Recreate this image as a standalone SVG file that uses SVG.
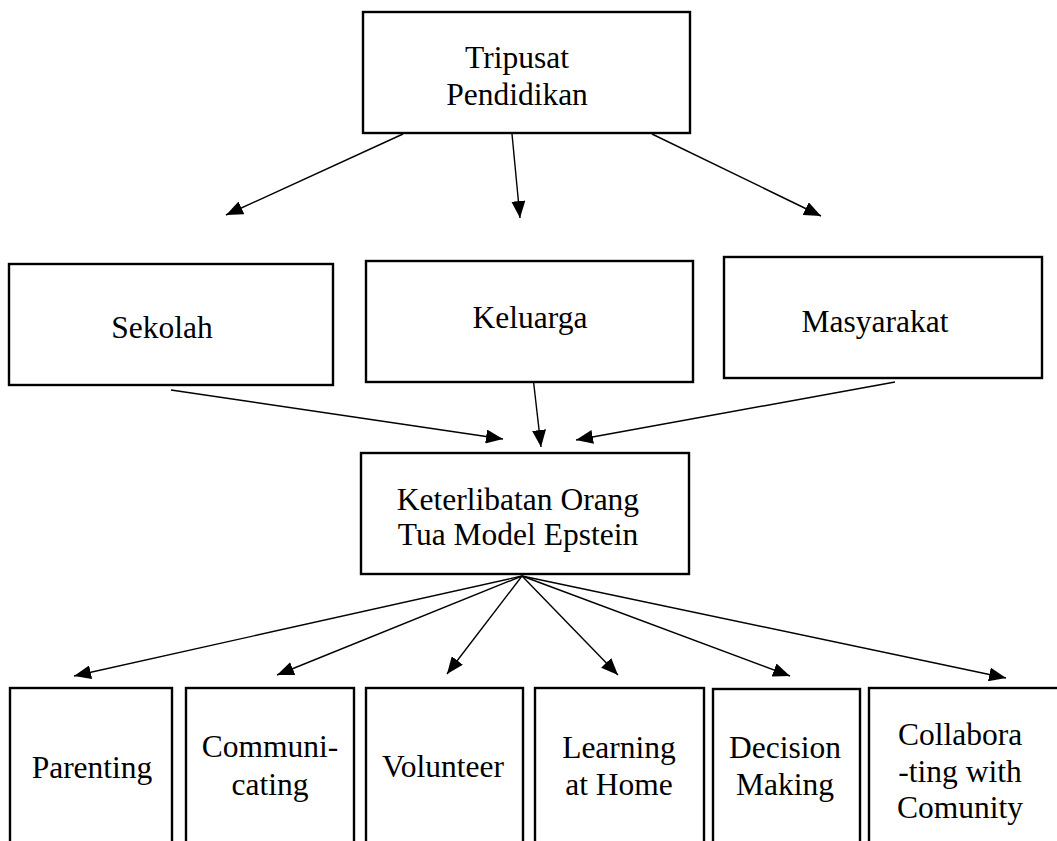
<svg xmlns="http://www.w3.org/2000/svg" width="1057" height="841" viewBox="0 0 1057 841">
<style>
.box{fill:#fff;stroke:#000;stroke-width:2.4}
.t{font-family:"Liberation Serif","Times New Roman",serif;font-size:31.5px;fill:#000;text-anchor:middle}
.c{stroke:#000;stroke-width:1.4;fill:none;marker-end:url(#ah)}
</style>
<defs>
<marker id="ah" markerUnits="userSpaceOnUse" markerWidth="18" markerHeight="14" refX="17" refY="7" orient="auto">
<path d="M0,0 L17,7 L0,14 z" fill="#000"/>
</marker>
</defs>
<rect width="1057" height="841" fill="#fff"/>
<g id="connectors">
<line class="c" x1="403" y1="134" x2="226" y2="215"/>
<line class="c" x1="512" y1="134" x2="520" y2="218"/>
<line class="c" x1="652" y1="134" x2="821" y2="216"/>
<line class="c" x1="171" y1="390" x2="503" y2="439"/>
<line class="c" x1="533" y1="377" x2="541" y2="447"/>
<line class="c" x1="895" y1="382" x2="576" y2="440"/>
<line class="c" x1="522" y1="576" x2="74" y2="676"/>
<line class="c" x1="522" y1="576" x2="277" y2="675"/>
<line class="c" x1="522" y1="576" x2="447" y2="674"/>
<line class="c" x1="522" y1="576" x2="618" y2="675"/>
<line class="c" x1="522" y1="576" x2="790" y2="676"/>
<line class="c" x1="522" y1="576" x2="1006" y2="678"/>
</g>
<g id="tripusat">
<rect class="box" x="363" y="12" width="327" height="121"/>
<text class="t" x="517" y="68">Tripusat</text>
<text class="t" x="517" y="105">Pendidikan</text>
</g>
<g id="sekolah">
<rect class="box" x="9" y="264" width="324" height="121"/>
<text class="t" x="162" y="338">Sekolah</text>
</g>
<g id="keluarga">
<rect class="box" x="366" y="261" width="327" height="121"/>
<text class="t" x="530" y="328">Keluarga</text>
</g>
<g id="masyarakat">
<rect class="box" x="724" y="257" width="318" height="121"/>
<text class="t" x="875" y="332">Masyarakat</text>
</g>
<g id="keterlibatan">
<rect class="box" x="361" y="453" width="328" height="121"/>
<text class="t" x="518" y="510">Keterlibatan Orang</text>
<text class="t" x="518" y="545">Tua Model Epstein</text>
</g>
<g id="parenting">
<rect class="box" x="10" y="688" width="162" height="170"/>
<text class="t" x="92" y="778">Parenting</text>
</g>
<g id="communicating">
<rect class="box" x="186" y="688" width="168" height="170"/>
<text class="t" x="270" y="757">Communi-</text>
<text class="t" x="270" y="795">cating</text>
</g>
<g id="volunteer">
<rect class="box" x="366" y="688" width="157" height="170"/>
<text class="t" x="443" y="777">Volunteer</text>
</g>
<g id="learning">
<rect class="box" x="535" y="688" width="169" height="170"/>
<text class="t" x="619" y="758">Learning</text>
<text class="t" x="619" y="795">at Home</text>
</g>
<g id="decision">
<rect class="box" x="713" y="689" width="147" height="170"/>
<text class="t" x="785" y="758">Decision</text>
<text class="t" x="785" y="795">Making</text>
</g>
<g id="collaborating">
<rect class="box" x="869" y="688" width="200" height="170"/>
<text class="t" x="960" y="745">Collabora</text>
<text class="t" x="960" y="782">-ting with</text>
<text class="t" x="960" y="818">Comunity</text>
</g>
</svg>
